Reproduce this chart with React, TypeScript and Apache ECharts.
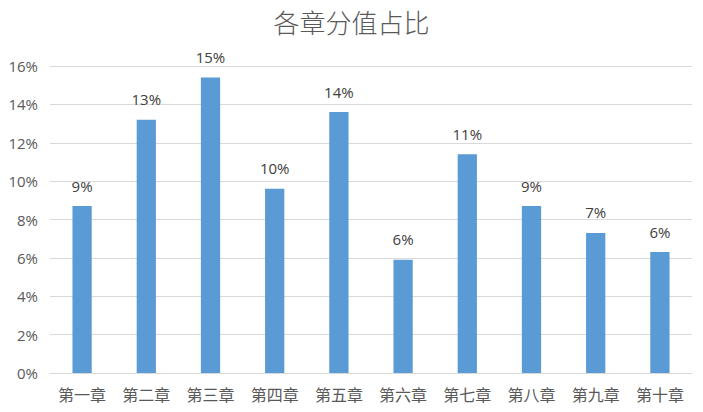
import React, { useEffect, useRef } from "react";
import * as echarts from "echarts";

const categories = ["第一章", "第二章", "第三章", "第四章", "第五章", "第六章", "第七章", "第八章", "第九章", "第十章"];
const values = [8.7, 13.2, 15.4, 9.6, 13.6, 5.9, 11.4, 8.7, 7.3, 6.3];
const titleText = "各章分值占比";

export default function App() {
  const ref = useRef<HTMLDivElement>(null);
  useEffect(() => {
    if (!ref.current) return;
    const chart = echarts.init(ref.current, null, { renderer: "svg" });
    chart.setOption({
      animation: false,
      backgroundColor: "#ffffff",
      title: {
        text: titleText,
        left: "center",
        top: 3,
        textStyle: { color: "#595959", fontSize: 26, fontWeight: 300, fontFamily: "Noto Sans CJK SC" },
      },
      grid: { left: 50, right: 11, top: 66, bottom: 39 },
      xAxis: {
        type: "category",
        data: categories,
        axisLine: { lineStyle: { color: "#d9d9d9", width: 1 } },
        axisTick: { show: false },
        axisLabel: { color: "#595959", fontSize: 16, fontFamily: "Noto Sans CJK SC", margin: 13 },
      },
      yAxis: {
        type: "value",
        min: 0,
        max: 16,
        interval: 2,
        axisLine: { show: false },
        axisTick: { show: false },
        axisLabel: { color: "#595959", fontSize: 15, fontFamily: "Open Sans", formatter: (v: number) => v + "%", margin: 12 },
        splitLine: { lineStyle: { color: "#d9d9d9", width: 1 } },
      },
      series: [
        {
          type: "bar",
          data: values,
          barWidth: "30%",
          itemStyle: { color: "#5b9bd5" },
          label: {
            show: true,
            position: "top",
            distance: 13,
            color: "#404040",
            fontSize: 15,
            fontFamily: "Open Sans",
            formatter: (p: any) => Math.round(p.value) + "%",
          },
        },
      ],
    });
    return () => chart.dispose();
  }, []);
  return <div ref={ref} style={{ width: 703, height: 412, position: "absolute", left: 0, top: 0 }} />;
}
